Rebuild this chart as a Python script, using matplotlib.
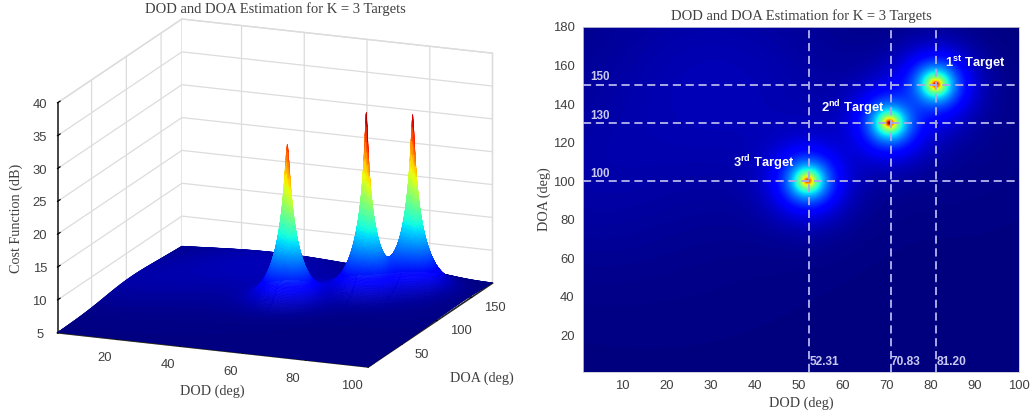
import numpy as np
import matplotlib
matplotlib.use("Agg")
import matplotlib.pyplot as plt
from matplotlib import cm
from matplotlib.colors import Normalize

plt.rcParams['mathtext.fontset'] = 'custom'
plt.rcParams['mathtext.bf'] = 'Liberation Sans:bold'
plt.rcParams['mathtext.rm'] = 'Liberation Sans:bold'

# values
title_text = "DOD and DOA Estimation for K = 3 Targets"
peak_dod = [81.20, 70.83, 52.31]
peak_doa = [150, 130, 100]
peak_top_db = [31.8, 33.0, 29.3]
peak_strength = 250.0
peak_reach = 9.0
doa_stretch = 2.2
faint_dod = [30, 1, 52, 90, 20]
faint_doa = [150, 100, 135, 120, 120]
faint_strength = [0.9, 0.5, 0.25, 0.2, 0.25]
faint_radius = [18, 14, 14, 14, 30]
floor_power = 3.17
z_ticks = [5, 10, 15, 20, 25, 30, 35, 40]
dod_ticks_3d = [20, 40, 60, 80, 100]
doa_ticks_3d = [50, 100, 150]
dod_ticks_2d = [10, 20, 30, 40, 50, 60, 70, 80, 90, 100]
doa_ticks_2d = [20, 40, 60, 80, 100, 120, 140, 160, 180]
doa_lines = [150, 130, 100]
dod_lines = [52.31, 70.83, 81.20]
dod_line_labels = ["52.31", "70.83", "81.20"]
doa_line_labels = ["150", "130", "100"]

dod = np.union1d(np.linspace(1, 100, 397), peak_dod)
doa = np.union1d(np.linspace(1, 180, 359), peak_doa)
X, Y = np.meshgrid(dod, doa)
P = np.full_like(X, floor_power)
for d, a, top in zip(peak_dod, peak_doa, peak_top_db):
    r2 = (X - d) ** 2 + ((Y - a) / doa_stretch) ** 2
    eps = peak_strength / (10 ** (top / 10) - floor_power)
    P = P + peak_strength / (r2 + eps) * np.exp(-r2 / (2 * peak_reach ** 2))
for d, a, s, w in zip(faint_dod, faint_doa, faint_strength, faint_radius):
    r2 = (X - d) ** 2 + ((Y - a) / doa_stretch) ** 2
    P = P + s * np.exp(-r2 / (2 * w ** 2))
Z = 10 * np.log10(P)

norm = Normalize(5, 33)
grey = '#404040'
serif = 'Liberation Serif'
sans = 'Liberation Sans'
tick_size = 9.4
label_size = 10.2
title_size = 10.5

fig = plt.figure(figsize=(10.34, 4.15), dpi=100)
FW, FH = 1034, 415

# ---------- left: surface ----------
W = 520
ax = fig.add_axes([8 / FW, (415 - 460) / FH, W / FW, W / FH], projection='3d', proj_type='ortho')
ax.patch.set_visible(False)
ax.view_init(elev=15.8, azim=-68)
ax.set_box_aspect((335, 332, 239), zoom=0.987)
face = cm.jet(norm(Z))
ax.plot_surface(X, Y, Z, facecolors=face, rstride=1, cstride=1,
                linewidth=0.25, antialiased=True, shade=False)
ax.set_xlim(1, 100)
ax.set_ylim(1, 180)
ax.set_zlim(5, 40)
ax.set_xticks(dod_ticks_3d)
ax.set_yticks(doa_ticks_3d)
ax.set_zticks(z_ticks)
for axis, out in zip((ax.xaxis, ax.yaxis, ax.zaxis), (0.6, 0.35, 0.25)):
    axis.set_pane_color((1, 1, 1, 1))
    axis.pane.set_edgecolor('#dcdcdc')
    axis.line.set_color('#262626')
    axis.line.set_linewidth(1.2)
    axis._axinfo['grid']['color'] = '#dcdcdc'
    axis._axinfo['grid']['linewidth'] = 0.9
    axis._axinfo['tick']['inward_factor'] = 0.0
    axis._axinfo['tick']['outward_factor'] = out
    axis._axinfo['tick']['linewidth'] = {True: 0.9, False: 0.5}
    axis._axinfo['tick']['color'] = '#262626'
ax.tick_params(axis='both', labelsize=tick_size, labelcolor=grey, pad=0)
ax.zaxis.set_ticks_position('lower')
for lbl in ax.get_xticklabels():
    lbl.set_family(sans)
    lbl.set_ha('right')
for lbl in ax.get_yticklabels():
    lbl.set_family(sans)
    lbl.set_ha('left')
    lbl.set_va('center')
for lbl in ax.get_zticklabels():
    lbl.set_family(sans)
    lbl.set_va('center')
fig.text(212 / FW, 1 - 391 / FH, "DOD (deg)", family=serif, fontsize=label_size, color=grey, ha='center', va='center')
fig.text(482 / FW, 1 - 378 / FH, "DOA (deg)", family=serif, fontsize=label_size, color=grey, ha='center', va='center')
fig.text(16 / FW, 1 - 218 / FH, "Cost Function (dB)", family=serif, fontsize=label_size, color=grey,
         rotation=90, ha='center', va='center')
fig.text(275 / FW, 1 - 9.5 / FH, title_text, family=serif, fontsize=title_size, color=grey, ha='center', va='center')

# ---------- right: image ----------
ax2 = fig.add_axes([583 / FW, (415 - 372) / FH, 436 / FW, 345 / FH])
ax2.imshow(Z, origin='lower', extent=[1, 100, 1, 180], aspect='auto', cmap='jet', norm=norm,
           interpolation='bilinear')
ax2.set_xlim(1, 100)
ax2.set_ylim(1, 180)
ax2.set_xticks(dod_ticks_2d)
ax2.set_yticks(doa_ticks_2d)
ax2.tick_params(length=0, labelsize=tick_size, labelcolor=grey, pad=6)
for lbl in ax2.get_xticklabels() + ax2.get_yticklabels():
    lbl.set_family(sans)
for s in ax2.spines.values():
    s.set_color('#c8c8d8')
    s.set_linewidth(0.6)
ax2.set_xlabel("DOD (deg)", family=serif, fontsize=label_size, color=grey, labelpad=3)
ax2.set_ylabel("DOA (deg)", family=serif, fontsize=label_size, color=grey, labelpad=1)
ax2.set_title(title_text, family=serif, fontsize=title_size, color=grey, pad=5)

line_col = '#a8a8e8'
for v in doa_lines:
    ax2.axhline(v, color=line_col, lw=1.4, dashes=(4.2, 2.4))
for v in dod_lines:
    ax2.axvline(v, color=line_col, lw=1.4, dashes=(4.2, 2.4))
label_col = '#c8c8f0'
for v, t in zip(doa_lines, doa_line_labels):
    ax2.text(2.6, v + 0.8, t, color=label_col, fontsize=8.4, fontweight='bold', family=sans, va='bottom', ha='left')
for v, t in zip(dod_lines, dod_line_labels):
    ax2.text(v + 0.1, 6, t, color=label_col, fontsize=8.6, fontweight='bold', family=sans, va='center', ha='left')

target_x = [83.2, 55, 35]
target_y = [161.3, 138, 109.4]
target_names = [r"$\mathbf{1^{st}}$ Target", r"$\mathbf{2^{nd}}$ Target", r"$\mathbf{3^{rd}}$ Target"]
for x, y, t in zip(target_x, target_y, target_names):
    ax2.text(x, y, t, color='white', fontsize=9.3, fontweight='bold', family=sans, va='center', ha='left')

fig.savefig('out.png', dpi=100)
